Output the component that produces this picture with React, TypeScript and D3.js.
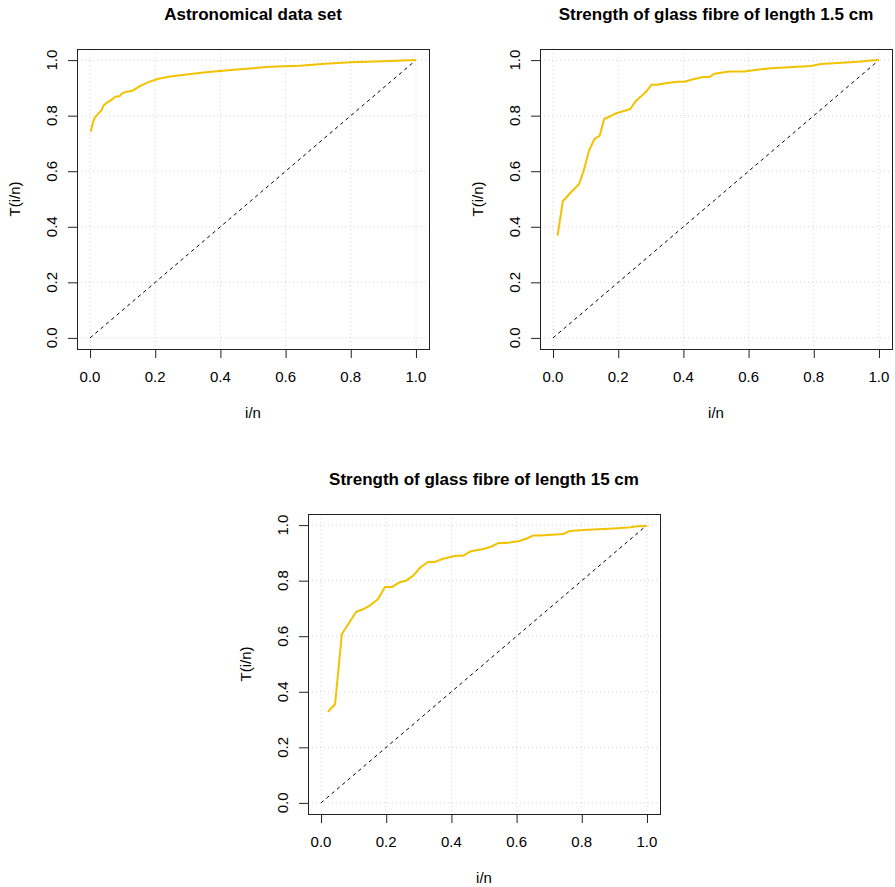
import React, { useEffect, useRef } from "react";
import * as d3 from "d3";

// tick values shared by both axes of every panel
const tickValues = [0, 0.2, 0.4, 0.6, 0.8, 1.0];
const tickLabels = ["0.0", "0.2", "0.4", "0.6", "0.8", "1.0"];

// Astronomical data set: scaled TTT transform
const astroU = [0.002, 0.008, 0.015, 0.026, 0.036, 0.041, 0.053, 0.067, 0.077, 0.09, 0.1, 0.113, 0.131, 0.143, 0.156, 0.174, 0.189, 0.21, 0.245, 0.297, 0.348, 0.399, 0.45, 0.501, 0.552, 0.644, 0.721, 0.798, 0.9, 1.0];
const astroT = [0.742, 0.772, 0.794, 0.808, 0.821, 0.836, 0.848, 0.858, 0.868, 0.87, 0.882, 0.886, 0.89, 0.899, 0.908, 0.918, 0.925, 0.933, 0.941, 0.948, 0.955, 0.961, 0.966, 0.971, 0.976, 0.98, 0.987, 0.992, 0.996, 1.0];

// Glass fibre, length 1.5 cm
const fibreShortU = [0.014, 0.03, 0.05, 0.08, 0.094, 0.111, 0.127, 0.143, 0.157, 0.172, 0.194, 0.237, 0.255, 0.284, 0.302, 0.32, 0.34, 0.382, 0.402, 0.433, 0.461, 0.479, 0.495, 0.541, 0.587, 0.626, 0.668, 0.791, 0.822, 0.935, 0.975, 1.0];
const fibreShortT = [0.368, 0.492, 0.518, 0.554, 0.602, 0.676, 0.716, 0.728, 0.788, 0.796, 0.809, 0.824, 0.854, 0.884, 0.911, 0.911, 0.916, 0.922, 0.922, 0.932, 0.939, 0.939, 0.951, 0.959, 0.959, 0.965, 0.971, 0.979, 0.986, 0.994, 0.999, 1.0];

// Glass fibre, length 15 cm
const fibreLongU = [0.021, 0.043, 0.064, 0.108, 0.129, 0.153, 0.175, 0.196, 0.217, 0.241, 0.261, 0.282, 0.307, 0.328, 0.348, 0.374, 0.413, 0.436, 0.46, 0.498, 0.523, 0.545, 0.569, 0.608, 0.629, 0.652, 0.672, 0.743, 0.764, 0.805, 0.897, 0.949, 0.969, 1.0];
const fibreLongT = [0.328, 0.355, 0.608, 0.688, 0.697, 0.713, 0.734, 0.777, 0.777, 0.794, 0.8, 0.817, 0.85, 0.867, 0.867, 0.879, 0.89, 0.89, 0.906, 0.914, 0.923, 0.936, 0.936, 0.943, 0.951, 0.963, 0.963, 0.968, 0.979, 0.982, 0.988, 0.992, 0.996, 0.997];

const titles = [
  "Astronomical data set",
  "Strength of glass fibre of length 1.5 cm",
  "Strength of glass fibre of length 15 cm",
];

const FONT = "'Liberation Sans', Arial, Helvetica, sans-serif";
const LINE_COLOR = "#F2C200";

const panels = [
  { title: titles[0], u: astroU, t: astroT, x0: 77, x1: 429, y0: 49, y1: 349 },
  { title: titles[1], u: fibreShortU, t: fibreShortT, x0: 540, x1: 892, y0: 49, y1: 349 },
  { title: titles[2], u: fibreLongU, t: fibreLongT, x0: 308, x1: 660, y0: 514, y1: 814 },
];

function drawPanel(svg, p) {
  const x = d3.scaleLinear().domain([-0.04, 1.04]).range([p.x0, p.x1]);
  const y = d3.scaleLinear().domain([-0.04, 1.04]).range([p.y1, p.y0]);
  const g = svg.append("g").attr("font-family", FONT);

  // dotted grid
  g.append("g")
    .selectAll("line.gx")
    .data(tickValues)
    .join("line")
    .attr("x1", d => x(d)).attr("x2", d => x(d))
    .attr("y1", p.y0).attr("y2", p.y1)
    .attr("stroke", "#d3d3d3").attr("stroke-dasharray", "1,3");
  g.append("g")
    .selectAll("line.gy")
    .data(tickValues)
    .join("line")
    .attr("y1", d => y(d)).attr("y2", d => y(d))
    .attr("x1", p.x0).attr("x2", p.x1)
    .attr("stroke", "#d3d3d3").attr("stroke-dasharray", "1,3");

  // reference diagonal
  g.append("line")
    .attr("x1", x(0)).attr("y1", y(0))
    .attr("x2", x(1)).attr("y2", y(1))
    .attr("stroke", "#000").attr("stroke-dasharray", "3.5,3.5");

  // TTT curve
  const pts = p.u.map((d, i) => [d, p.t[i]]);
  const line = d3.line().x(d => x(d[0])).y(d => y(d[1]));
  g.append("path")
    .attr("d", line(pts))
    .attr("fill", "none")
    .attr("stroke", LINE_COLOR)
    .attr("stroke-width", 2)
    .attr("stroke-linejoin", "round");

  // box
  g.append("rect")
    .attr("x", p.x0 + 0.5).attr("y", p.y0 + 0.5)
    .attr("width", p.x1 - p.x0).attr("height", p.y1 - p.y0)
    .attr("fill", "none").attr("stroke", "#222");

  // x axis
  const xa = g.append("g");
  xa.append("line")
    .attr("x1", x(0)).attr("x2", x(1))
    .attr("y1", p.y1 + 0.5).attr("y2", p.y1 + 0.5)
    .attr("stroke", "#222");
  xa.selectAll("line.tk")
    .data(tickValues)
    .join("line")
    .attr("x1", d => x(d) + 0.5).attr("x2", d => x(d) + 0.5)
    .attr("y1", p.y1).attr("y2", p.y1 + 9)
    .attr("stroke", "#222");
  xa.selectAll("text")
    .data(tickValues)
    .join("text")
    .attr("x", d => x(d))
    .attr("y", p.y1 + 32.5)
    .attr("text-anchor", "middle")
    .attr("font-size", 15)
    .text((d, i) => tickLabels[i]);
  g.append("text")
    .attr("x", (p.x0 + p.x1) / 2)
    .attr("y", p.y1 + 69)
    .attr("text-anchor", "middle")
    .attr("font-size", 15)
    .text("i/n");

  // y axis
  const ya = g.append("g");
  ya.append("line")
    .attr("y1", y(0)).attr("y2", y(1))
    .attr("x1", p.x0 + 0.5).attr("x2", p.x0 + 0.5)
    .attr("stroke", "#222");
  ya.selectAll("line.tk")
    .data(tickValues)
    .join("line")
    .attr("y1", d => y(d) + 0.5).attr("y2", d => y(d) + 0.5)
    .attr("x1", p.x0 - 9).attr("x2", p.x0)
    .attr("stroke", "#222");
  ya.selectAll("text")
    .data(tickValues)
    .join("text")
    .attr("transform", d => `translate(${p.x0 - 20},${y(d)}) rotate(-90)`)
    .attr("text-anchor", "middle")
    .attr("font-size", 15)
    .text((d, i) => tickLabels[i]);
  g.append("text")
    .attr("transform", `translate(${p.x0 - 57},${(p.y0 + p.y1) / 2}) rotate(-90)`)
    .attr("text-anchor", "middle")
    .attr("font-size", 15)
    .text("T(i/n)");

  // title
  g.append("text")
    .attr("x", (p.x0 + p.x1) / 2)
    .attr("y", p.y0 - 29)
    .attr("text-anchor", "middle")
    .attr("font-size", 17)
    .attr("font-weight", "bold")
    .text(p.title);
}

export default function App() {
  const ref = useRef(null);

  useEffect(() => {
    const svg = d3.select(ref.current);
    svg.selectAll("*").remove();
    panels.forEach(p => drawPanel(svg, p));
  }, []);

  return (
    <svg
      ref={ref}
      width={895}
      height={887}
      style={{ position: "absolute", left: 0, top: 0, background: "#fff" }}
    />
  );
}
